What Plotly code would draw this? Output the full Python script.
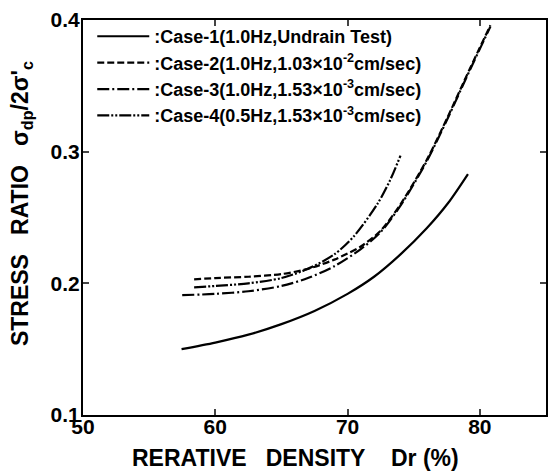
import plotly.graph_objects as go

# Relative density Dr (%) and stress ratio for each case
case1_x = [57.45, 60.0, 62.5, 65.0, 67.5, 70.0, 72.0, 74.0, 76.0, 77.6, 79.1]
case1_y = [0.150, 0.155, 0.161, 0.169, 0.179, 0.192, 0.205, 0.222, 0.242, 0.261, 0.283]

case2_x = [58.4, 60.0, 62.5, 65.0, 67.0, 69.0, 71.0, 72.5, 74.0, 76.0, 77.6, 79.2, 80.8]
case2_y = [0.203, 0.204, 0.205, 0.207, 0.211, 0.218, 0.228, 0.240, 0.260, 0.294, 0.327, 0.362, 0.396]

case3_x = [57.5, 60.0, 62.5, 65.0, 67.0, 69.0, 71.0, 72.5, 74.0, 76.0, 77.6, 79.2, 80.8]
case3_y = [0.191, 0.192, 0.194, 0.198, 0.204, 0.213, 0.226, 0.239, 0.259, 0.293, 0.326, 0.361, 0.395]

case4_x = [58.4, 60.0, 62.5, 65.0, 67.0, 69.0, 70.5, 72.3, 73.2, 74.0]
case4_y = [0.197, 0.198, 0.200, 0.204, 0.211, 0.222, 0.236, 0.261, 0.278, 0.297]

names = [
    ":Case-1(1.0Hz,Undrain Test)",
    ":Case-2(1.0Hz,1.03×10<sup>-2</sup>cm/sec)",
    ":Case-3(1.0Hz,1.53×10<sup>-3</sup>cm/sec)",
    ":Case-4(0.5Hz,1.53×10<sup>-3</sup>cm/sec)",
]
dashes = ["solid", "7px,3px", "12px,3px,2px,3px", "12px,2px,2px,2px,2px,2px"]

x_ticks = [50, 60, 70, 80]
y_ticks = [0.1, 0.2, 0.3, 0.4]
y_tick_text = ["0.1", "0.2", "0.3", "0.4"]

series = [(case1_x, case1_y), (case2_x, case2_y), (case3_x, case3_y), (case4_x, case4_y)]

FONT = "Liberation Sans"

fig = go.Figure()
for (xs, ys), name, dash in zip(series, names, dashes):
    fig.add_trace(go.Scatter(
        x=xs, y=ys, mode="lines", name=name,
        line=dict(color="black", width=2.2, dash=dash, shape="spline", smoothing=0.8),
    ))

fig.update_layout(
    width=556, height=473,
    margin=dict(l=83, r=8, t=14, b=58),
    paper_bgcolor="white", plot_bgcolor="white",
    font=dict(family=FONT, color="black", size=18, weight=700),
    showlegend=True,
    legend=dict(
        x=0.02, y=1.005, xanchor="left", yanchor="top",
        bgcolor="rgba(0,0,0,0)", itemwidth=52,
        font=dict(family=FONT, size=18, color="black", weight=700),
        tracegroupgap=0,
    ),
    xaxis=dict(
        range=[50, 85], tickvals=x_ticks, ticks="inside", ticklen=6, tickwidth=1.5,
        showline=True, linecolor="black", linewidth=2, mirror="ticks",
        showgrid=False, zeroline=False, ticklabelstandoff=-8,
        tickfont=dict(family=FONT, size=21, weight=700),
    ),
    yaxis=dict(
        range=[0.1, 0.4], tickvals=y_ticks, ticktext=y_tick_text, ticks="inside",
        ticklen=6, tickwidth=1.5,
        showline=True, linecolor="black", linewidth=2, mirror="ticks",
        showgrid=False, zeroline=False, ticklabelstandoff=-3,
        tickfont=dict(family=FONT, size=21, weight=700),
    ),
    annotations=[
        dict(
            text="RERATIVE\u00a0\u00a0\u00a0DENSITY\u00a0\u00a0\u00a0\u00a0Dr\u00a0(%)",
            xref="paper", yref="paper", x=0.46, y=-0.11,
            xanchor="center", yanchor="middle", showarrow=False,
            font=dict(family=FONT, size=23, weight=700),
        ),
        dict(
            text="STRESS\u00a0\u00a0\u00a0RATIO\u00a0\u00a0\u00a0σ<sub>dp</sub>/2σ'<sub>c</sub>",
            xref="paper", yref="paper", x=-0.133, y=0.535,
            xanchor="center", yanchor="middle", showarrow=False, textangle=-90,
            font=dict(family=FONT, size=23, weight=700),
        ),
    ],
)

fig.write_html(
    "out.html",
    config={"displayModeBar": False},
    post_script="document.body.style.margin='0';document.documentElement.style.margin='0';",
)
